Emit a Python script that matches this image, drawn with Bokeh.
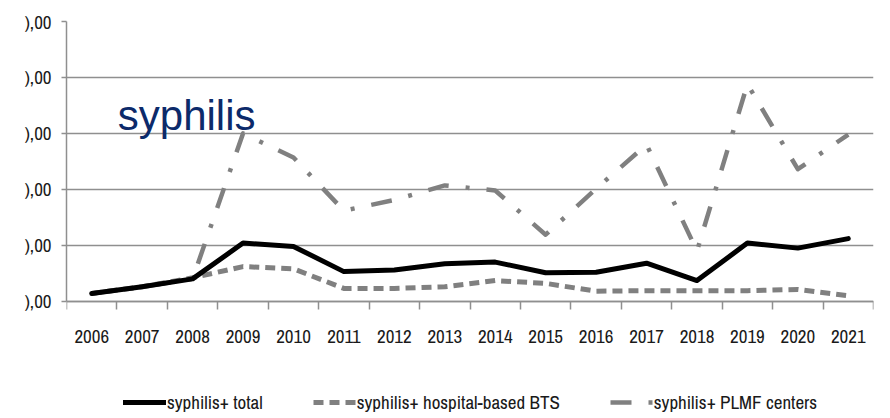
from bokeh.plotting import figure
from bokeh.models import FixedTicker, Legend, LegendItem, Label
from bokeh.embed import file_html
from bokeh.resources import INLINE

# ---- data ----
years = ["2006", "2007", "2008", "2009", "2010", "2011", "2012", "2013",
         "2014", "2015", "2016", "2017", "2018", "2019", "2020", "2021"]
total = [1.4, 2.6, 4.0, 10.4, 9.8, 5.3, 5.6, 6.7, 7.0, 5.1, 5.2, 6.8, 3.7, 10.4, 9.5, 11.2]
bts = [1.4, 2.6, 4.2, 6.2, 5.8, 2.3, 2.3, 2.6, 3.7, 3.2, 1.8, 1.9, 1.9, 1.9, 2.1, 1.0]
plmf = [1.4, 2.6, 4.0, 30.0, 25.7, 16.2, 18.1, 20.7, 19.8, 11.9, 20.1, 28.0, 9.0, 38.8, 23.6, 29.8]
y_ticks = [0, 10, 20, 30, 40, 50]
y_labels = ["),00", "),00", "),00", "),00", "),00", "),00"]
series_names = ["syphilis+ total", "syphilis+ hospital-based BTS", "syphilis+ PLMF centers"]
title_text = "syphilis"

FONT = "Archivo Narrow"
GRAY = "#808080"
GRID = "#8f8f8f"
TXT = "#1a1a1a"

n = len(years)
xs = list(range(n))

# frame spans from the top gridline down to the bottom of the page (room for the legend)
p = figure(width=890, height=418, output_backend="svg", toolbar_location=None,
           x_range=(-0.5, n - 0.5), y_range=(-20.95, y_ticks[-1]),
           min_border_left=66, min_border_right=17, min_border_top=21, min_border_bottom=0)
p.outline_line_color = None
p.background_fill_color = "white"
p.border_fill_color = "white"

# y axis
p.yaxis.bounds = (y_ticks[0], y_ticks[-1])
p.yaxis.ticker = FixedTicker(ticks=y_ticks, minor_ticks=[])
p.yaxis.major_label_overrides = {t: l for t, l in zip(y_ticks, y_labels)}
p.yaxis.axis_line_color = GRID
p.yaxis.axis_line_width = 1.5
p.yaxis.major_tick_line_color = GRID
p.yaxis.major_tick_line_width = 1.5
p.yaxis.major_tick_out = 5
p.yaxis.major_tick_in = 0
p.yaxis.major_label_standoff = 10
p.yaxis.major_label_text_font = FONT
p.yaxis.major_label_text_font_size = "19px"
p.yaxis.major_label_text_color = TXT

# x axis, pinned at y = 0 inside the frame
p.xaxis.fixed_location = 0
p.xaxis.ticker = FixedTicker(ticks=xs, minor_ticks=[i - 0.5 for i in range(n + 1)])
p.xaxis.major_label_overrides = {i: y for i, y in zip(xs, years)}
p.xaxis.axis_line_color = GRID
p.xaxis.axis_line_width = 1.5
p.xaxis.major_tick_out = 0
p.xaxis.major_tick_in = 0
p.xaxis.minor_tick_out = 8
p.xaxis.minor_tick_in = 0
p.xaxis.minor_tick_line_color = GRID
p.xaxis.minor_tick_line_width = 1.5
p.xaxis.major_label_standoff = 21
p.xaxis.major_label_text_font = FONT
p.xaxis.major_label_text_font_size = "19px"
p.xaxis.major_label_text_color = TXT

p.xgrid.visible = False
p.ygrid.ticker = FixedTicker(ticks=y_ticks, minor_ticks=[])
p.ygrid.grid_line_color = GRID
p.ygrid.grid_line_width = 1.5

r_plmf = p.line(xs, plmf, line_color=GRAY, line_width=4.5, line_dash="21 17 4 17",
                line_join="round")
r_bts = p.line(xs, bts, line_color=GRAY, line_width=5, line_dash="10 6",
               line_join="round")
r_total = p.line(xs, total, line_color="black", line_width=5,
                 line_cap="round", line_join="round")

title = Label(x=0.517, y=33.2, text=title_text, text_font="Liberation Sans",
              text_font_size="42px", text_color="#0c2a6a", text_baseline="alphabetic")
p.add_layout(title)

legend = Legend(items=[LegendItem(label=series_names[0], renderers=[r_total]),
                       LegendItem(label=series_names[1], renderers=[r_bts]),
                       LegendItem(label=series_names[2], renderers=[r_plmf])],
                orientation="horizontal", location=(57, 3),
                glyph_width=43, glyph_height=10, label_height=10, label_standoff=1,
                spacing=50, padding=0, margin=0, border_line_color=None,
                background_fill_alpha=0, label_text_font=FONT,
                label_text_font_size="19px", label_text_color=TXT)
p.add_layout(legend)

open("out.html", "w").write(file_html(p, INLINE))
